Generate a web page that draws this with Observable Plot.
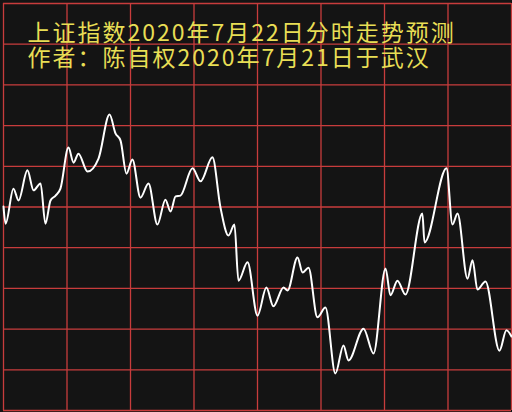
<!DOCTYPE html>
<html>
<head>
<meta charset="utf-8">
<script src="https://cdn.jsdelivr.net/npm/d3@7"></script>
<script src="https://cdn.jsdelivr.net/npm/@observablehq/plot@0.6"></script>
<style>
  html, body { margin: 0; padding: 0; background: #141414; }
  #chart svg text { letter-spacing: 2px; }
</style>
</head>
<body>
<div id="chart"></div>
<script>
const titleLines = ["上证指数2020年7月22日分时走势预测", "作者：陈自权2020年7月21日于武汉"];
const minutes = [0, 1, 4.7, 7.1, 11.3, 14.2, 17.5, 19.8, 22.2, 24.6, 26.9, 30.7, 33.1, 35.4, 39.7, 44.9, 50.1, 52.9, 55.3, 58.1, 60.9, 64.7, 68.5, 72.7, 76.5, 78.9, 81.3, 83.6, 89.3, 93.1, 98.7, 102.5, 106.3, 109.1, 111.0, 115.3, 120.0, 124.2, 127.5, 132.3, 134.2, 138.9, 141.3, 144.1, 148.3, 152.1, 156.8, 160.6, 163.0, 170.1, 174.8, 180.5, 182.8, 186.1, 189.9, 197.9, 198.9, 209.3, 212.1, 214.5, 219.2, 221.6, 223.9, 227.7, 234.3, 237.6, 240];
const values = [3290.1, 3285.9, 3294.5, 3291.6, 3299.0, 3294.1, 3295.8, 3285.9, 3291.6, 3292.8, 3294.5, 3304.6, 3300.9, 3303.1, 3298.7, 3301.9, 3312.7, 3308.1, 3306.3, 3298.2, 3301.7, 3292.3, 3295.8, 3285.7, 3291.8, 3288.9, 3292.6, 3292.8, 3299.5, 3296.3, 3302.2, 3289.9, 3283.0, 3285.7, 3271.9, 3276.4, 3263.3, 3270.2, 3265.6, 3270.2, 3269.5, 3277.6, 3273.9, 3275.1, 3262.9, 3265.3, 3249.1, 3256.0, 3252.3, 3260.1, 3254.0, 3274.9, 3268.3, 3271.9, 3268.5, 3288.4, 3281.3, 3299.5, 3285.7, 3288.4, 3272.4, 3276.9, 3269.7, 3271.7, 3254.7, 3259.7, 3258.2];
const xGrid = [0, 30, 60, 90, 120, 150, 180, 210, 240];
const yGrid = [3240, 3250, 3260, 3270, 3280, 3290, 3300, 3310, 3320, 3330, 3340];

const data = minutes.map((m, i) => ({minute: m, value: values[i]}));

const chart = Plot.plot({
  width: 512,
  height: 412,
  marginLeft: 3,
  marginRight: 1,
  marginTop: 3,
  marginBottom: 2,
  style: {background: "#141414", overflow: "visible"},
  x: {domain: [0, 240], axis: null},
  y: {domain: [3240, 3340], axis: null},
  marks: [
    Plot.ruleX(xGrid, {stroke: "#c83c3c", strokeWidth: 1.3}),
    Plot.ruleY(yGrid, {stroke: "#c83c3c", strokeWidth: 1.3}),
    Plot.line(data, {x: "minute", y: "value", stroke: "#ffffff", strokeWidth: 2, curve: "monotone-x"}),
    Plot.text([titleLines.join("\n")], {
      frameAnchor: "top-left", lineAnchor: "top", textAnchor: "start",
      dx: 24, dy: 20, fontSize: 23, lineHeight: 1.09,
      fill: "#e8de55",
      fontFamily: "'Noto Sans CJK SC', sans-serif"
    })
  ]
});
document.getElementById("chart").appendChild(chart);
</script>
</body>
</html>
